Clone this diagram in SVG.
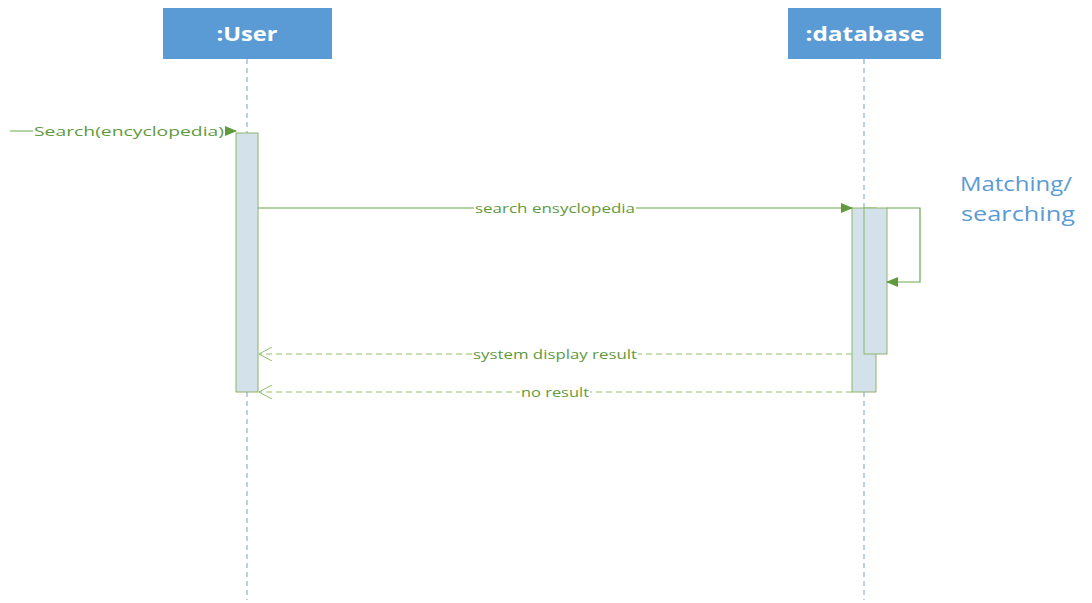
<svg xmlns="http://www.w3.org/2000/svg" width="1092" height="603" viewBox="0 0 1092 603">
<style>
.head{fill:#5b9bd5;}
.htxt{font-family:"Open Sans","Liberation Sans",sans-serif;font-weight:bold;font-size:20px;fill:#ffffff;text-anchor:middle;}
.life{stroke:#8fb0d8;stroke-width:1.2;stroke-dasharray:5 4;fill:none;}
.act{fill:#d3e2ea;stroke:#8db36a;stroke-width:1;}
.msg{stroke:#6aa84f;stroke-width:1.2;fill:none;}
.ret{stroke:#8fc36a;stroke-width:1;stroke-dasharray:6 4;fill:none;}
.lbl{font-family:"Open Sans","Liberation Sans",sans-serif;font-size:13px;fill:#5f9a3c;text-anchor:middle;}
.note{font-family:"Open Sans","Liberation Sans",sans-serif;font-size:20px;fill:#5b9bd5;text-anchor:middle;}
</style>
<defs>
<marker id="filled" markerWidth="12" markerHeight="10" refX="11" refY="5" orient="auto" markerUnits="userSpaceOnUse">
<path d="M0,0 L12,5 L0,10 Z" fill="#5f9a3c"/>
</marker>
<marker id="open" markerWidth="14" markerHeight="14" refX="13" refY="7" orient="auto" markerUnits="userSpaceOnUse">
<path d="M0,0 L13,7 L0,14" fill="none" stroke="#8fc36a" stroke-width="1"/>
</marker>
</defs>
<rect width="1092" height="603" fill="#ffffff"/>
<g id="user">
<rect class="head" x="163" y="8" width="169" height="51"/>
<text class="htxt" x="247" y="41" textLength="61" lengthAdjust="spacingAndGlyphs">:User</text>
<line class="life" x1="247" y1="59" x2="247" y2="600"/>
<rect class="act" x="236" y="133" width="22" height="259"/>
</g>
<g id="database">
<rect class="head" x="788" y="8" width="153" height="51"/>
<text class="htxt" x="865" y="41" textLength="119" lengthAdjust="spacingAndGlyphs">:database</text>
<line class="life" x1="864" y1="59" x2="864" y2="600"/>
<rect class="act" x="852" y="208" width="24" height="184"/>
<rect class="act" x="864" y="208" width="23" height="146"/>
</g>
<g id="note">
<text class="note" x="1016" y="191" textLength="112" lengthAdjust="spacingAndGlyphs">Matching/</text>
<text class="note" x="1018" y="221" textLength="114" lengthAdjust="spacingAndGlyphs">searching</text>
</g>
<g id="connectors">
<line class="msg" x1="10" y1="131" x2="236" y2="131" marker-end="url(#filled)"/>
<rect x="33" y="122" width="192" height="17" fill="#ffffff"/>
<text class="lbl" x="129" y="136" textLength="190" lengthAdjust="spacingAndGlyphs">Search(encyclopedia)</text>
<line class="msg" x1="258" y1="208" x2="852" y2="208" marker-end="url(#filled)"/>
<rect x="474" y="200" width="162" height="16" fill="#ffffff"/>
<text class="lbl" x="555" y="213" textLength="160" lengthAdjust="spacingAndGlyphs">search ensyclopedia</text>
<line class="ret" x1="852" y1="354" x2="259" y2="354" marker-end="url(#open)"/>
<rect x="472" y="346" width="166" height="16" fill="#ffffff"/>
<text class="lbl" x="555" y="359" textLength="164" lengthAdjust="spacingAndGlyphs">system display result</text>
<line class="ret" x1="852" y1="392" x2="259" y2="392" marker-end="url(#open)"/>
<rect x="520" y="384" width="70" height="16" fill="#ffffff"/>
<text class="lbl" x="555" y="397" textLength="68" lengthAdjust="spacingAndGlyphs">no result</text>
<path class="msg" d="M887,208 H920 V282 H887" marker-end="url(#filled)"/>
</g>
</svg>
